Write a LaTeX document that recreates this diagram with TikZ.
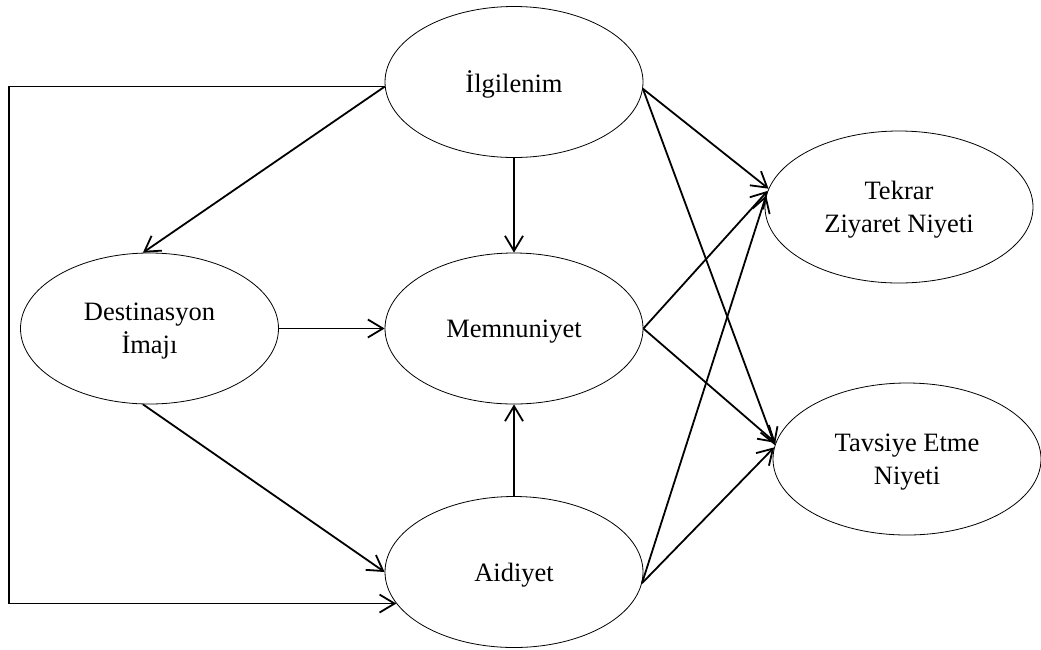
\documentclass[tikz,border=0pt]{standalone}
\usepackage{fontspec}
\setmainfont{Liberation Serif}
\usetikzlibrary{shapes.geometric,arrows.meta}
\begin{document}
\begin{tikzpicture}[x=1pt,y=-1pt,
  construct/.style={ellipse, draw, line width=0.8pt, minimum width=258pt,
    minimum height=151pt, inner sep=0pt, align=center, text depth=0pt,
    font=\fontsize{26.5}{33}\selectfont},
  outcome/.style={construct, minimum width=268pt, minimum height=152pt},
  conn/.style={line width=1.8pt, -{Straight Barb[length=15pt,width=18pt]}}]
\useasboundingbox (0,0) rectangle (1041,649);

% constructs of the model
\node[construct] (ilg)  at (514,82)    {İlgilenim};
\node[construct] (dest) at (149.5,328.5) {Destinasyon\\İmajı};
\node[construct] (mem)  at (514,328.5) {Memnuniyet};
\node[construct] (aid)  at (514,572)   {Aidiyet};
\node[outcome]   (tek)  at (899,207)   {Tekrar\\Ziyaret Niyeti};
\node[outcome]   (tav)  at (907,459)   {Tavsiye Etme\\Niyeti};

% corner of the outer path on the left
\coordinate (bendTop) at (9,87);

% paths between constructs
\draw[conn] (ilg.182) -- (ilg.182 -| bendTop) -- (aid.195 -| bendTop) -- (aid.195);
\draw[conn] (ilg.182) -- (dest.95);
\draw[conn] (ilg.south) -- (mem.north);
\draw[conn] (dest.east) -- (mem.west);
\draw[conn] (dest.265) -- (aid.west);
\draw[conn] (aid.north) -- (mem.south);

\draw[conn] (ilg.357) -- (tek.172);
\draw[conn] (ilg.357) -- (tav.174);
\draw[conn] (mem.east) -- (tek.173);
\draw[conn] (mem.east) -- (tav.173);
\draw[conn] (aid.355) -- (tek.175);
\draw[conn] (aid.355) -- (tav.175);
\end{tikzpicture}
\end{document}
